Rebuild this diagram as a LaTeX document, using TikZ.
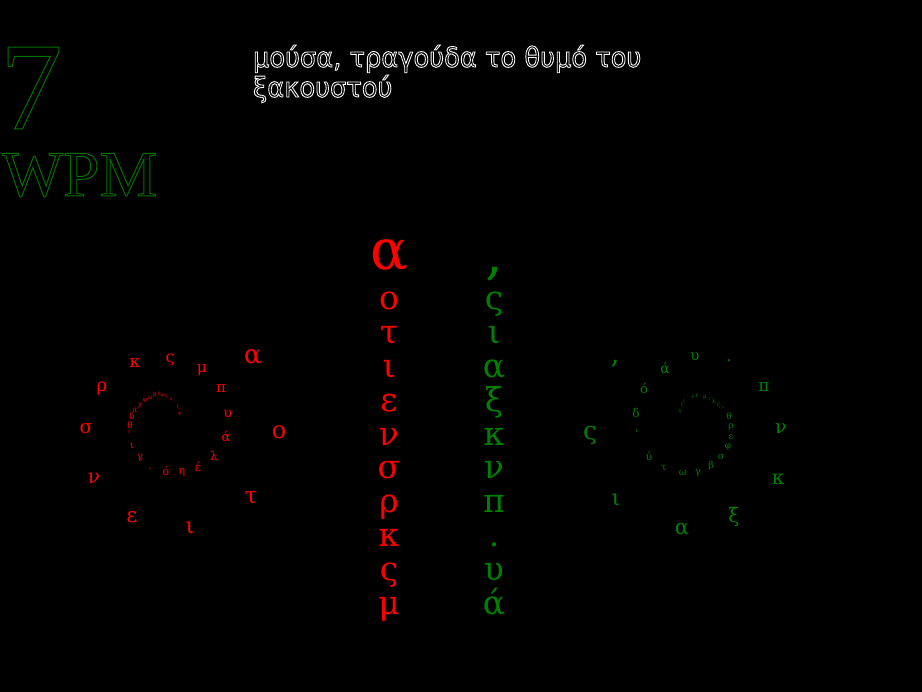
\documentclass[tikz,border=0pt]{standalone}
\usepackage{fontspec}
\setmainfont{Liberation Serif}
\newfontfamily\gkfont{DejaVu Serif}
\newfontfamily\ttlfont{DejaVu Sans}
\definecolor{gkred}{RGB}{255,0,0}
\definecolor{gkgreen}{RGB}{0,128,0}
\newcommand\cma{,}
% hollow (stroked) text: #1 = stroke colour as PDF rgb, #2 = line width, #3 = text
\newcommand\hollowtext[3]{\special{pdf:literal direct 1 Tr #1 RG #2 w}#3\special{pdf:literal direct 0 Tr 0 0 0 RG 0.3985 w}}
\begin{document}
\begin{tikzpicture}[x=1pt,y=-1pt,
  every node/.style={inner sep=0pt, outer sep=0pt},
  redl/.style={text=gkred},
  grnl/.style={text=gkgreen},
  collet/.style={anchor=base, font={\gkfont\fontsize{33}{33}\selectfont}},
  bigl/.style={anchor=base, font={\gkfont\fontsize{56}{56}\selectfont}}]
\useasboundingbox (0,0) rectangle (922,692);
\fill[black] (0,0) rectangle (922,692);

% heading
\node[anchor=base west, text=black, font={\fontsize{125}{125}\selectfont}] (seven) at (0,129) {\hollowtext{0 0.45 0}{1}{7}};
\node[anchor=base west, text=black, font={\fontsize{65}{65}\selectfont}] (wpm) at (2,196) {\hollowtext{0 0.45 0}{1}{WPM}};

\node[anchor=base west, text=black, font={\ttlfont\fontsize{27.5}{27.5}\selectfont}] (title1) at (253,67) {\scalebox{0.935}[1]{\hollowtext{1 1 1}{0.9}{μούσα, τραγούδα το θυμό του}}};
\node[anchor=base west, text=black, font={\ttlfont\fontsize{27.5}{27.5}\selectfont}] (title2) at (253,97) {\scalebox{0.935}[1]{\hollowtext{1 1 1}{0.9}{ξακουστού}}};

% columns
\node[bigl, redl] (rc0) at (389,270) {α};
\foreach \c [count=\i] in {ο,τ,ι,ε,ν,σ,ρ,κ,ς,μ}
  \node[collet, redl] (rc\i) at (389,{276.2+33.8*\i}) {\c};
\node[bigl, grnl] (gc0) at (494,274) {\cma};
\foreach \c [count=\i] in {ς,ι,α,ξ,κ,ν,π,.,υ,ά}
  \node[collet, grnl] (gc\i) at (494,{276.2+33.8*\i}) {\c};

% red spiral
\foreach \c/\x/\y/\s [count=\i from 0] in {
  α/253/357/26, ο/279/432/24, τ/251/498/23, ι/190/528/22, ε/132/517/21,
  ν/94/478/20, σ/86/429/19, ρ/102/389/18, κ/135/363/17, ς/170/360/16,
  μ/202/370/15.5, π/221/389/15, υ/228/414/14, ά/226/437/13, λ/214/456/12,
  έ/198/467/12, η/182/473/11, ό/166/471/11, ./150/469/11, γ/140/458/10,
  ι/132/446/10, '/129/434/9, θ/130/425/9, δ/132/416/8.5, ά/135/410/7,
  χ/140/405/6.5, φ/145/401/6, ω/150/398/6, β/155/395/5.5, ή/159/394/5,
  ώ/163/395/5, ι/167/397/5, ε/171/399/4.5, '/175/402/4.5, ζ/178/407/4.5,
  ψ/180/414/4.5}
  \node[redl, font={\gkfont\fontsize{\s}{\s}\selectfont}] (rs\i) at (\x,\y) {\c};

% green spiral
\foreach \c/\x/\y/\s [count=\i from 0] in {
  \cma/615/364/28, ς/590/435/25, ι/616/500/22, α/682/529/21, ξ/734/517/20,
  κ/778/479/20, ν/781/429/19, π/764/387/17, ./729/361/16, υ/695/357/15,
  ά/665/368/14, ό/644/388/13, δ/636/413/12, '/637/433/11, ύ/649/456/11,
  τ/664/468/10, ω/683/473/10, γ/698/473/9.5, β/711/466/9.5, σ/721/457/9.5,
  φ/728/447/9, ε/731/437/9, ρ/731/427/9, θ/729/416/9, -/723/408/7,
  ς/719/405/6.5, λ/714/401/6, :/710/399/6, μ/705/398/5.5, ·/701/396/5.5,
  χ/697/396/5, ν/693/397/5, '/688/398/5, ί/684/401/4.5, ζ/682/405/4.5,
  ή/680/411/4.5}
  \node[grnl, font={\gkfont\fontsize{\s}{\s}\selectfont}] (gs\i) at (\x,\y) {\c};
\end{tikzpicture}
\end{document}
